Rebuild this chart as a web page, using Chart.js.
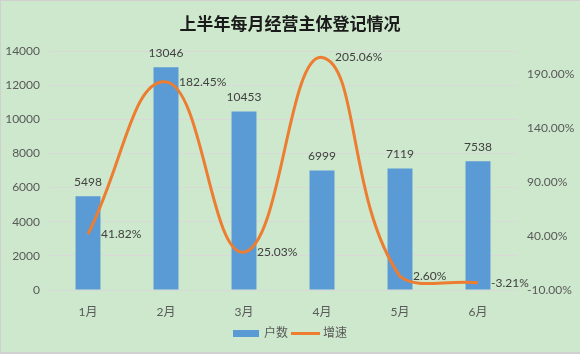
<!DOCTYPE html>
<html>
<head>
<meta charset="utf-8">
<script src="https://cdn.jsdelivr.net/npm/chart.js@4/dist/chart.umd.min.js"></script>
<style>
  html, body { margin: 0; padding: 0; background: #cde8cc; }
  #wrap { width: 580px; height: 354px; }
</style>
</head>
<body>
<div id="wrap"><canvas id="registrations"></canvas></div>
<script>
const months = ['1月', '2月', '3月', '4月', '5月', '6月']
const households = [5498, 13046, 10453, 6999, 7119, 7538]
const growth = [41.82, 182.45, 25.03, 205.06, 2.60, -3.21]
const leftTicks = [0, 2000, 4000, 6000, 8000, 10000, 12000, 14000]
const rightTicks = [-10, 40, 90, 140, 190]

const textFont = "Lato, 'Noto Sans CJK SC', sans-serif"

// background, frame, value labels and legend
const decorations = {
  id: 'decorations',
  beforeDraw: (chart) => {
    const ctx = chart.ctx
    ctx.save()
    ctx.fillStyle = '#cde8cc'
    ctx.fillRect(0, 0, chart.width, chart.height)
    ctx.strokeStyle = '#d0d0d0'
    ctx.lineWidth = 2
    ctx.beginPath()
    ctx.moveTo(0, chart.height)
    ctx.lineTo(0, 0)
    ctx.lineTo(chart.width, 0)
    ctx.moveTo(0, chart.height - 1)
    ctx.lineTo(chart.width, chart.height - 1)
    ctx.stroke()
    ctx.restore()
  },
  afterDatasetsDraw: (chart) => {
    const ctx = chart.ctx
    ctx.save()
    ctx.font = '12px ' + textFont
    ctx.fillStyle = '#404040'
    ctx.textBaseline = 'middle'

    ctx.textAlign = 'center'
    chart.getDatasetMeta(0).data.forEach((bar, i) => {
      ctx.fillText(String(households[i]), bar.x, bar.y - 14)
    })

    ctx.textAlign = 'left'
    chart.getDatasetMeta(1).data.forEach((pt, i) => {
      ctx.fillText(growth[i].toFixed(2) + '%', pt.x + 13, pt.y)
    })

    // legend
    const ds = chart.data.datasets
    ctx.font = '12px ' + textFont
    ctx.fillStyle = '#595959'
    const w1 = ctx.measureText(ds[0].label).width
    const w2 = ctx.measureText(ds[1].label).width
    const total = 26 + 5 + w1 + 3 + 29 + 3 + w2
    let x = chart.width / 2 - total / 2
    const y = 333.5
    ctx.fillStyle = ds[0].backgroundColor
    ctx.fillRect(x, y - 3.5, 26, 7)
    x += 31
    ctx.fillStyle = '#595959'
    ctx.fillText(ds[0].label, x, y)
    x += w1 + 3
    ctx.strokeStyle = ds[1].borderColor
    ctx.lineWidth = 3
    ctx.beginPath()
    ctx.moveTo(x, y)
    ctx.lineTo(x + 29, y)
    ctx.stroke()
    x += 32
    ctx.fillText(ds[1].label, x, y)
    ctx.restore()
  }
}

const ctx = document.querySelector('#registrations')
const regChart = new Chart(ctx, {
  type: 'bar',
  data: {
    labels: months,
    datasets: [
      {
        type: 'bar',
        label: '户数',
        data: households,
        backgroundColor: '#5b9bd5',
        barPercentage: 0.32,
        categoryPercentage: 1,
        yAxisID: 'y',
        order: 2
      },
      {
        type: 'line',
        label: '增速',
        data: growth,
        borderColor: '#ed7d31',
        borderWidth: 3,
        tension: 0.45,
        pointRadius: 0,
        fill: false,
        yAxisID: 'y1',
        order: 1
      }
    ]
  },
  plugins: [decorations],
  options: {
    responsive: true,
    maintainAspectRatio: false,
    animation: false,
    layout: { padding: { top: 0.6, bottom: 34, left: 0, right: 0 } },
    plugins: {
      legend: { display: false },
      tooltip: { enabled: false },
      title: {
        display: true,
        text: '上半年每月经营主体登记情况',
        color: '#1a1a1a',
        font: { family: "'Noto Sans CJK SC', sans-serif", size: 17, weight: 'bold' },
        padding: { top: 13, bottom: 17 }
      }
    },
    scales: {
      x: {
        grid: { display: false },
        border: { display: false },
        ticks: { color: '#595959', font: { family: textFont, size: 12 }, padding: 7 },
        afterFit: (scale) => { scale.height = 30 }
      },
      y: {
        position: 'left',
        min: 0,
        max: 14000,
        grid: { color: '#d9d9d9', drawTicks: false },
        border: { display: false },
        ticks: {
          color: '#595959',
          font: { family: textFont, size: 12 },
          padding: 9,
          callback: (v) => String(v)
        },
        afterBuildTicks: (scale) => { scale.ticks = leftTicks.map(v => ({ value: v })) },
        afterFit: (scale) => { scale.width = 49 }
      },
      y1: {
        position: 'right',
        min: -10,
        max: 211,
        grid: { display: false, drawTicks: false },
        border: { display: false },
        ticks: {
          color: '#595959',
          font: { family: textFont, size: 12 },
          padding: 10,
          callback: (v) => v.toFixed(2) + '%'
        },
        afterBuildTicks: (scale) => { scale.ticks = rightTicks.map(v => ({ value: v })) },
        afterFit: (scale) => { scale.width = 63 }
      }
    }
  }
})
</script>
</body>
</html>
